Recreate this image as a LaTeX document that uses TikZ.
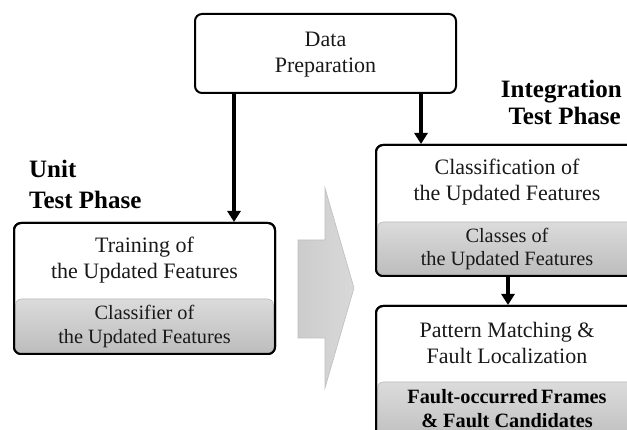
\documentclass[tikz,border=0pt]{standalone}
\usepackage{fontspec}
\setmainfont{Liberation Serif}
\usetikzlibrary{arrows.meta,calc}
\begin{document}
\begin{tikzpicture}[x=1pt,y=-1pt,
  outerbox/.style={draw=black,line width=2pt,rounded corners=7pt,fill=white,inner sep=0pt},
  graybox/.style={draw=gray!55,line width=0.6pt,rounded corners=6pt,top color=gray!28,bottom color=gray!52},
  title/.style={align=center,font=\fontsize{22}{26}\selectfont,text=black!90},
  sub/.style={align=center,font=\fontsize{20.3}{23.5}\selectfont,text=black!90},
  subbold/.style={align=center,font=\fontsize{20.3}{23.5}\selectfont\bfseries,text=black},
  phase/.style={font=\fontsize{25}{27}\selectfont\bfseries,inner sep=0pt},
  flow/.style={line width=4pt,-{Triangle[width=13pt,length=11pt]}},
  bigarrow/.style={draw=gray!50,line width=0.6pt,left color=gray!40,right color=gray!30}
]
\useasboundingbox (0,0) rectangle (627,430);
\clip (0,0) rectangle (627,430);

% Data preparation
\node[outerbox,minimum width=261pt,minimum height=79pt] (dp) at (325.5,53.5) {};
\node[title] (dpt) at (325.5,55) {Data\\Preparation};

% Training box
\node[outerbox,minimum width=261pt,minimum height=131pt] (train) at (144.5,288.5) {};
\path[graybox] (15.5,353) -- (15.5,299) -- (273.5,299) -- (273.5,353);
\draw[line width=2pt,rounded corners=7pt] (14,223) rectangle (275,354);
\node[title] (traint) at (144.5,260) {Training  of\\the Updated Features};
\node[sub] (trains) at (144.5,326.5) {Classifier of\\the Updated Features};

% Classification box
\node[outerbox,minimum width=262pt,minimum height=131pt] (cls) at (507,210.5) {};
\path[graybox] (377.5,275) -- (377.5,222) -- (636.5,222) -- (636.5,275);
\draw[line width=2pt,rounded corners=7pt] (376,145) rectangle (638,276);
\node[title] (clst) at (507,182) {Classification  of\\the Updated Features};
\node[sub] (clss) at (507,249) {Classes of\\the Updated Features};

% Pattern matching box
\node[outerbox,minimum width=262pt,minimum height=140pt] (pm) at (507,376) {};
\path[graybox] (377.5,445) -- (377.5,382) -- (636.5,382) -- (636.5,445);
\draw[line width=2pt,rounded corners=7pt] (376,306) rectangle (638,446);
\node[title] (pmt) at (507,342.5) {Pattern Matching \&\\Fault Localization};
\node[subbold] (pms) at (507,408.5) {Fault-occurred\,Frames\\\& Fault Candidates};

% phase labels
\node[phase,anchor=base west] (u1) at (29,178) {Unit};
\node[phase,anchor=base west] (u2) at (29,209) {Test Phase};
\node[phase,anchor=base east] (i1) at (622,98) {Integration};
\node[phase,anchor=base east] (i2) at (621,125) {Test Phase};

% big arrow
\path[bigarrow] (298,240) -- (325,240) -- (325,188) -- (354,288) -- (325,388) -- (325,338) -- (298,338) -- cycle;

% connectors
\coordinate (xa) at (234,0);
\coordinate (xb) at (421,0);
\coordinate (xc) at (508,0);
\draw[flow] (dp.south -| xa) -- (train.north -| xa);
\draw[flow] (dp.south -| xb) -- (cls.north -| xb);
\draw[flow] (cls.south -| xc) -- (pm.north -| xc);
\end{tikzpicture}
\end{document}
